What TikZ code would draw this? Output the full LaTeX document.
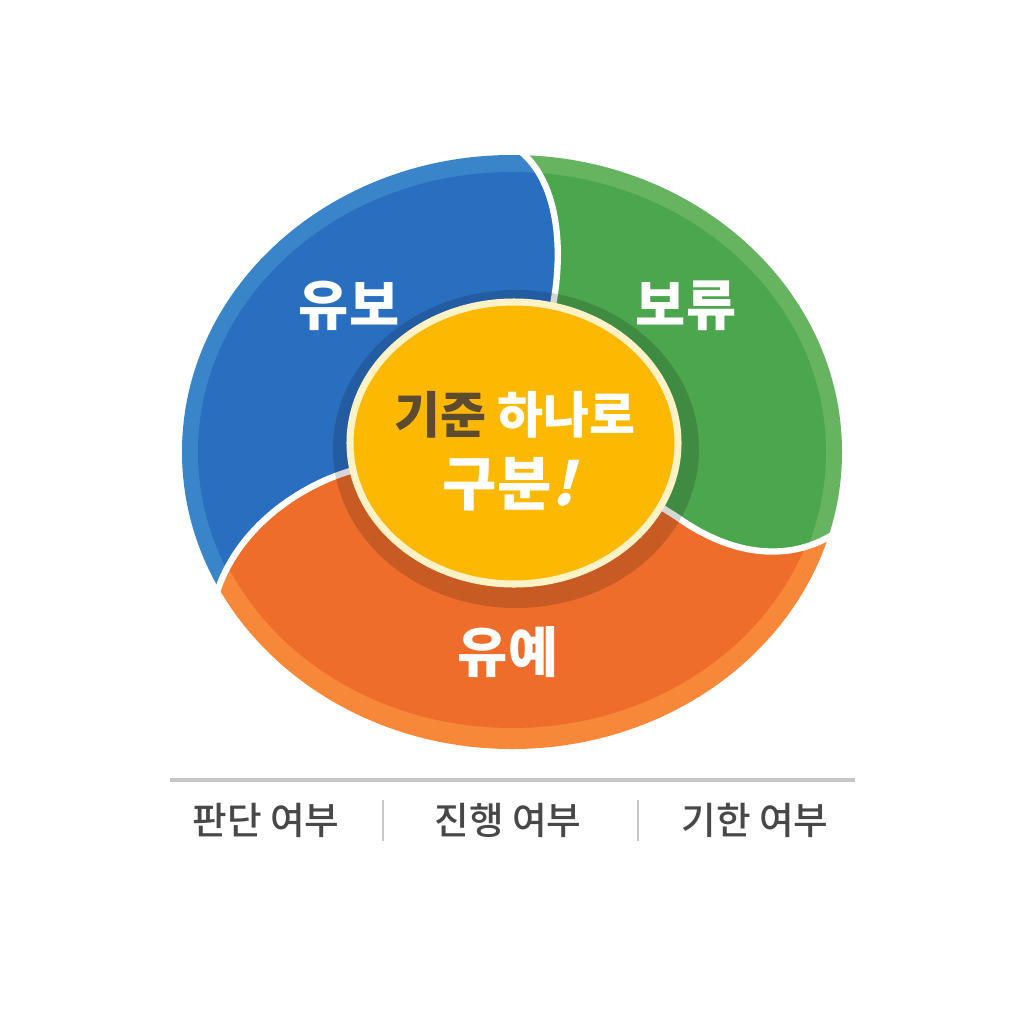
\documentclass[tikz,border=0pt]{standalone}
\usepackage{fontspec}
\setmainfont{Noto Sans CJK KR}
\newfontfamily\krmed{Noto Sans CJK KR Medium}
\newfontfamily\krslant{Noto Sans CJK KR}[FakeSlant=0.25]
\definecolor{bluebase}{HTML}{2A6EBF}
\definecolor{bluerim}{HTML}{3A84CA}
\definecolor{greenbase}{HTML}{4CA64E}
\definecolor{greenrim}{HTML}{66B460}
\definecolor{orangebase}{HTML}{EE6D2A}
\definecolor{orangerim}{HTML}{F7883A}
\definecolor{centeryellow}{HTML}{FDB902}
\definecolor{centercream}{HTML}{FFF2C6}
\definecolor{darktext}{HTML}{5C4B2E}
\definecolor{textgray}{HTML}{484848}
\definecolor{rulegray}{HTML}{C6C6C6}

\begin{document}
\begin{tikzpicture}[x=0.01cm, y=-0.01cm,
    sepline/.style={white, line width=1.8pt, line cap=round},
    seglabel/.style={white, font=\bfseries\fontsize{15.5}{18}\selectfont},
    footlabel/.style={textgray, font=\krmed\fontsize{10.7}{12}\selectfont}]
  \useasboundingbox (0,0) rectangle (1024,1024);
  \fill[white] (0,0) rectangle (1024,1024);
  %
  % blue part
  \begin{scope}
    \clip (512,452) ellipse [x radius=330, y radius=297];
    \clip (518,150) .. controls (555,175) and (565,240) .. (553,305) -- (515,445) -- (347,472)
      .. controls (290,490) and (222,540) .. (213,610) -- (100,700) -- (100,100) -- cycle;
    \fill[bluerim] (0,0) rectangle (1024,1024);
    \fill[bluebase] (512,452) ellipse [x radius=314, y radius=280];
  \end{scope}
  % green part
  \begin{scope}
    \clip (512,452) ellipse [x radius=330, y radius=297];
    \clip (518,150) .. controls (555,175) and (565,240) .. (553,305) -- (515,445) -- (677,517)
      .. controls (730,555) and (790,565) .. (838,532) -- (950,540) -- (950,100) -- cycle;
    \fill[greenrim] (0,0) rectangle (1024,1024);
    \fill[greenbase] (512,452) ellipse [x radius=314, y radius=280];
  \end{scope}
  % orange part
  \begin{scope}
    \clip (512,452) ellipse [x radius=330, y radius=297];
    \clip (213,610) .. controls (222,540) and (290,490) .. (347,472) -- (515,445) -- (677,517)
      .. controls (730,555) and (790,565) .. (838,532) -- (950,540) -- (950,800) -- (100,800)
      -- (100,700) -- cycle;
    \fill[orangerim] (0,0) rectangle (1024,1024);
    \fill[orangebase] (512,452) ellipse [x radius=312, y radius=276];
  \end{scope}
  %
  % white gaps between the parts
  \draw[sepline] (516,148) .. controls (555,175) and (565,240) .. (553,305) -- (545,340);
  \draw[sepline] (211,618) .. controls (222,540) and (290,490) .. (347,472) -- (380,462);
  \draw[sepline] (650,500) -- (677,517) .. controls (730,555) and (790,565) .. (840,530);
  %
  % shadow ring and centre
  \fill[black, opacity=0.16] (516,449) ellipse [x radius=183, y radius=159];
  \draw[centercream, line width=2pt, fill=centeryellow] (514,443) ellipse [x radius=164, y radius=141];
  %
  \node[seglabel] (yubo) at (349,306) {유보};
  \node[seglabel] (boryu) at (686,306) {보류};
  \node[seglabel] (yuye) at (508,652) {유예};
  \node[white, font=\bfseries\fontsize{14.2}{16}\selectfont] (centertop) at (515,415)
    {\textcolor{darktext}{기준} 하나로};
  \node[white, font=\bfseries\fontsize{16.8}{18}\selectfont] (centerbottom) at (509,484)
    {구분\krslant\bfseries !};
  %
  % bottom legend
  \coordinate (ruleleft) at (170,780);
  \coordinate (ruleright) at (855,780);
  \draw[rulegray, line width=0.9pt] (ruleleft) -- (ruleright);
  \node[footlabel] (judge) at (266,820) {판단 여부};
  \node[footlabel] (progress) at (508,820) {진행 여부};
  \node[footlabel] (deadline) at (755,820) {기한 여부};
  \draw[rulegray, line width=0.6pt] (383,800) -- (383,841);
  \draw[rulegray, line width=0.6pt] (638,800) -- (638,841);
\end{tikzpicture}
\end{document}
